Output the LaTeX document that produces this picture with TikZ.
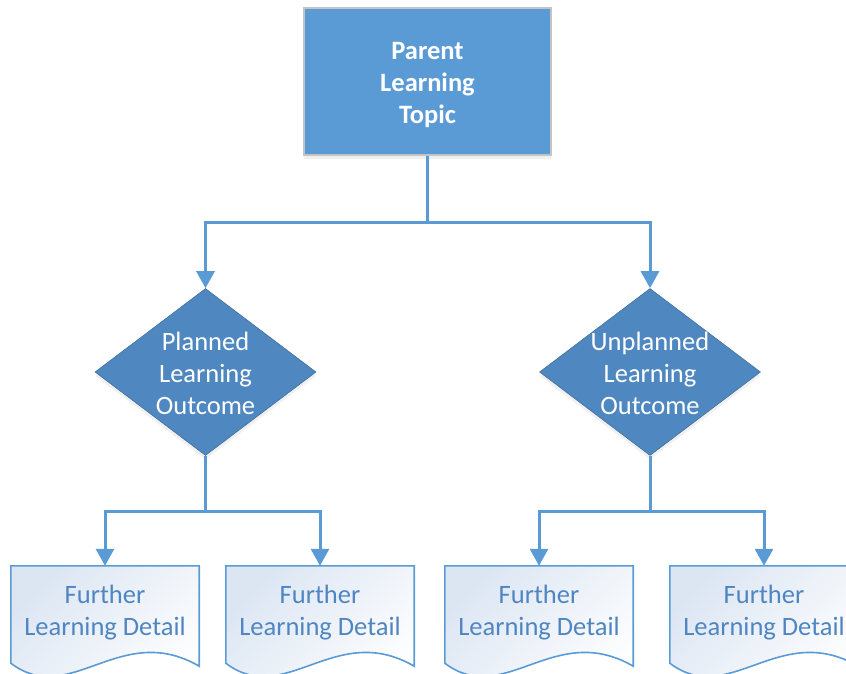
\documentclass[tikz,border=0pt]{standalone}
\usepackage{fontspec}
\setmainfont{Carlito}
\usetikzlibrary{shapes.geometric,arrows.meta,shadows}
\definecolor{topblue}{HTML}{5B9BD5}
\definecolor{diablue}{HTML}{4F88C0}
\definecolor{diaedge}{HTML}{41719C}
\definecolor{linkblue}{HTML}{5B9BD5}
\definecolor{doctext}{HTML}{4F86C2}
\definecolor{docfill}{HTML}{DCE6F3}
\definecolor{graybord}{HTML}{C4C4C4}
\tikzset{
  topbox/.style={rectangle, fill=topblue, draw=graybord, line width=2pt,
    minimum width=247pt, minimum height=147pt, inner sep=0pt,
    drop shadow={opacity=0.12, shadow xshift=0pt, shadow yshift=-4pt}},
  decision/.style={diamond, aspect=1.32, fill=diablue, draw=diaedge, line width=0.6pt,
    minimum width=221pt, minimum height=167pt, inner sep=0pt,
    drop shadow={opacity=0.12, shadow xshift=0pt, shadow yshift=-4pt}},
  toptext/.style={text=white, font=\fontsize{26.5}{32}\selectfont\bfseries, align=center, inner sep=0pt},
  diatext/.style={text=white, font=\fontsize{26.5}{32}\selectfont, align=center, inner sep=0pt},
  docbox/.style={rectangle, draw=none, minimum width=188pt, minimum height=90pt, inner sep=0pt},
  doctxt/.style={text=doctext, font=\fontsize{26.5}{32}\selectfont, align=center, inner sep=0pt},
  docline/.style={draw=linkblue, line width=1.6pt, top color=docfill, bottom color=white, shading angle=45},
  link/.style={draw=linkblue, line width=3pt, -{Triangle[width=18pt,length=17pt]}},
  plainlink/.style={draw=linkblue, line width=3pt},
}
\newcommand{\docshape}[1]{%
  \path[docline] (#1.north west) -- (#1.north east) -- ([yshift=-10pt]#1.south east)
    .. controls ([xshift=-79pt,yshift=36pt]#1.south east) and ([xshift=-129pt,yshift=-52pt]#1.south east)
    .. ([yshift=-7pt]#1.south west) -- cycle;%
}
\begin{document}
\begin{tikzpicture}[x=1pt,y=-1pt]
\useasboundingbox (0,0) rectangle (846,674);
\node[topbox] (parent) at (427.5,81.5) {};
\node[toptext] (parentt) at ([yshift=-3pt]parent.center) {Parent\\Learning\\Topic};
\node[decision] (plan) at (205.5,372) {};
\node[diatext] (plant) at ([yshift=-1pt]plan.center) {Planned\\Learning\\Outcome};
\node[decision] (unplan) at (650,372) {};
\node[diatext] (unplant) at ([yshift=-1pt]unplan.center) {Unplanned\\Learning\\Outcome};
\node[docbox] (d1) at (105,611) {};
\node[docbox] (d2) at (320,611) {};
\node[docbox] (d3) at (539,611) {};
\node[docbox] (d4) at (764,611) {};
\docshape{d1}\docshape{d2}\docshape{d3}\docshape{d4}
\node[doctxt] (t1) at ([yshift=-2pt]d1.center) {Further\\Learning Detail};
\node[doctxt] (t2) at ([yshift=-2pt]d2.center) {Further\\Learning Detail};
\node[doctxt] (t3) at ([yshift=-2pt]d3.center) {Further\\Learning Detail};
\node[doctxt] (t4) at ([yshift=-2pt]d4.center) {Further\\Learning Detail};
\coordinate (jtop) at (427.5,222);
\coordinate (jl) at (205.5,511);
\coordinate (jr) at (650,511);
\draw[plainlink] (parent.south) -- (jtop);
\draw[link] (jtop) -| (plan.north);
\draw[link] (jtop) -| (unplan.north);
\draw[plainlink] (plan.south) -- (jl);
\draw[link] (jl) -| (d1.north);
\draw[link] (jl) -| (d2.north);
\draw[plainlink] (unplan.south) -- (jr);
\draw[link] (jr) -| (d3.north);
\draw[link] (jr) -| (d4.north);
\end{tikzpicture}
\end{document}
